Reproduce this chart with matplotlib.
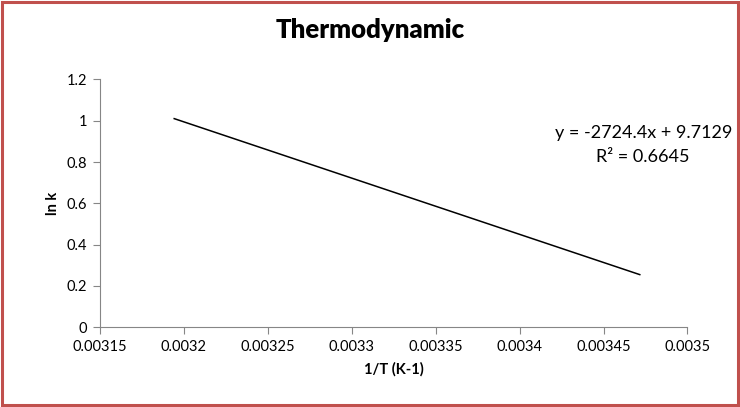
import matplotlib
matplotlib.use("Agg")
import matplotlib.pyplot as plt
from matplotlib.patches import Rectangle

plt.rcParams['font.family'] = ['Lato', 'DejaVu Sans']

# trendline end points
inv_T = [0.0031943, 0.0034716]
ln_k = [1.010, 0.255]
x_ticks = [0.00315, 0.0032, 0.00325, 0.0033, 0.00335, 0.0034, 0.00345, 0.0035]
x_tick_labels = ["0.00315", "0.0032", "0.00325", "0.0033", "0.00335", "0.0034", "0.00345", "0.0035"]
y_ticks = [0, 0.2, 0.4, 0.6, 0.8, 1, 1.2]
y_tick_labels = ["0", "0.2", "0.4", "0.6", "0.8", "1", "1.2"]
equation = "y = -2724.4x + 9.7129"
r_squared = "R² = 0.6645"

fig = plt.figure(figsize=(7.4, 4.07), dpi=100)
ax = fig.add_axes([0.1349, 0.1958, 0.929 - 0.1349, 0.805 - 0.1958])

ax.plot(inv_T, ln_k, color="black", linewidth=1.1)

ax.set_xlim(0.00315, 0.0035)
ax.set_ylim(0, 1.2)
ax.set_xticks(x_ticks)
ax.set_xticklabels(x_tick_labels)
ax.set_yticks(y_ticks)
ax.set_yticklabels(y_tick_labels)
ax.tick_params(direction="out", length=5, color="#868686", labelsize=10.5, pad=4)
for s in ["top", "right"]:
    ax.spines[s].set_visible(False)
for s in ["left", "bottom"]:
    ax.spines[s].set_color("#868686")

ax.set_xlabel("1/T (K-1)", fontsize=10.5, fontweight="bold", labelpad=6)
ax.set_ylabel("ln k", fontsize=10.5, fontweight="bold", labelpad=5)

fig.text(0.5, 1 - 30 / 407, "Thermodynamic", ha="center", va="center",
         fontsize=18.5, fontweight="heavy")
fig.text(732 / 740, 1 - 133 / 407, equation, ha="right", va="center", fontsize=13)
fig.text(643 / 740, 1 - 157 / 407, r_squared, ha="center", va="center", fontsize=13)

# red chart border
fig.patches.append(Rectangle((0.003, 0.005), 0.994, 0.99, transform=fig.transFigure,
                             fill=False, edgecolor="#C0504D", linewidth=2.2))

fig.savefig("out.png", dpi=100)
